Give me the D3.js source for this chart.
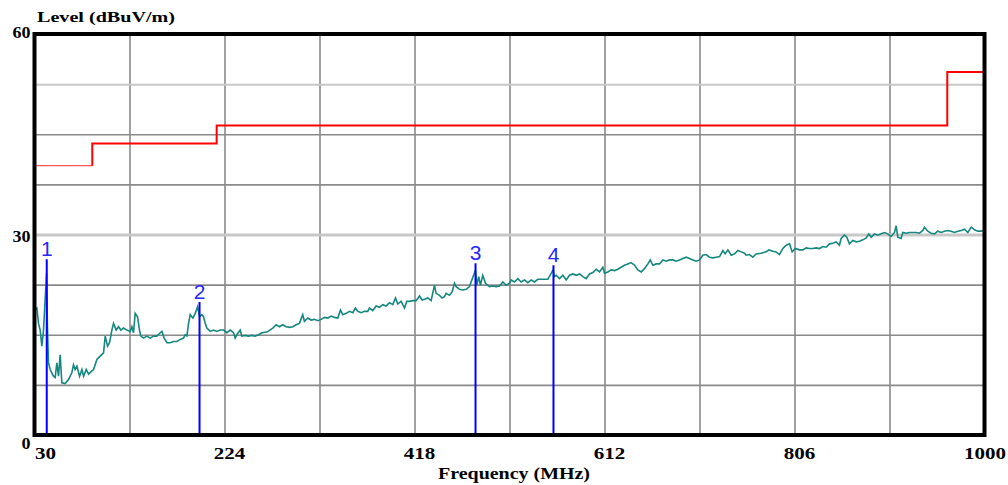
<!DOCTYPE html>
<html>
<head>
<meta charset="utf-8">
<script src="https://cdn.jsdelivr.net/npm/d3@7"></script>
<style>
  body { margin: 0; background: #fff; }
  svg { display: block; }
  .lbl { font-family: "Liberation Serif", "Times New Roman", serif; font-weight: bold; fill: #000; }
  .mk { font-family: "Liberation Sans", Arial, sans-serif; fill: #2626ff; }
</style>
</head>
<body>
<script>
// grid / tick values
const freqGrid = [30, 127, 224, 321, 418, 515, 612, 709, 806, 903, 1000];
const freqLabels = [30, 224, 418, 612, 806, 1000];
const levelGrid = [0, 7.5, 15, 22.5, 30, 37.5, 45, 52.5, 60];
const levelLabels = [0, 30, 60];

// limit line (step)
const limitFreq = [30, 89, 216, 962, 1000];
const limitLevel = [40.3, 43.6, 46.3, 54.3, 54.3];

// measured trace
const traceFreq = [
  30, 32.4, 34.1, 35.8, 37.5, 39.2, 42.3, 43.2, 44.3, 46.0, 47.7, 49.4, 51.1, 52.8, 54.5, 56.2, 57.9, 61.3, 64.7, 68.1,
  69.8, 71.5, 73.3, 76.0, 78.4, 80.1, 82.8, 85.2, 88.6, 90.3, 93.7, 97.1, 100.5, 102.2, 104.6, 106.6, 109.0, 110.7, 113.4, 115.8,
  118.2, 120.9, 124.3, 127.7, 129.4, 131.1, 132.8, 135.2, 137.2, 138.6, 141.3, 144.7, 148.1, 151.5, 154.9, 158.4, 160.1, 162.4, 165.2, 168.6,
  172.0, 175.4, 178.8, 182.2, 183.9, 185.6, 187.3, 189.0, 191.7, 194.1, 196.5, 198.5, 200.9, 202.6, 204.3, 206.0, 209.4, 212.8, 216.2, 219.6,
  223.0, 226.4, 229.8, 233.2, 234.9, 236.6, 240.0, 241.7, 245.1, 248.5, 251.9, 255.3, 258.7, 262.2, 267.3,
  273.3, 276.7, 280.1, 283.5, 286.9, 290.3, 293.7, 297.1, 300.5, 303.9, 305.6, 309.0, 312.4, 315.8, 319.3, 322.7, 326.1, 329.5, 332.9, 336.3,
  339.7, 342.4, 344.8, 348.2, 351.6, 355.0, 357.7, 360.1, 363.5, 366.9, 370.3, 372.0, 375.4, 378.8, 382.2, 385.6, 389.0, 392.4, 395.8, 398.6,
  400.9, 404.3, 407.8, 410.1, 412.9, 416.3, 419.7, 423.1, 425.8, 428.2, 431.6, 435.0, 438.4, 440.1, 443.5, 446.2, 448.6, 450.3, 453.7, 456.4,
  458.8, 460.5, 463.9, 467.3, 470.7, 474.1, 480.3, 481.5, 483.6, 485.3, 487.7, 490.5, 494.5, 497.9, 501.4, 504.8, 508.2, 511.6, 515.0,
  516.7, 520.1, 523.5, 526.9, 530.3, 533.7, 537.1, 540.5, 543.9, 547.3, 550.7, 554.1, 559.6, 560.8, 562.7, 566.1, 569.5, 572.9, 576.3, 579.7,
  583.1, 586.5, 589.9, 593.3, 596.7, 600.1, 603.5, 606.9, 610.3, 612.0, 615.4, 618.8, 622.2, 625.6, 629.0, 632.4, 635.8, 639.2, 642.7, 646.1,
  649.5, 652.9, 656.3, 658.7, 661.4, 664.8, 668.2, 671.6, 675.0, 678.4, 681.8, 685.2, 688.6, 692.0, 695.4, 698.8, 702.2, 705.6, 709.0, 712.4,
  715.8, 719.2, 722.6, 726.0, 729.5, 732.9, 735.2, 738.0, 741.4, 744.8, 748.2, 751.6, 755.0,
  756.6, 760.0, 763.4, 766.8, 771.9, 777.0, 779.8, 783.8, 787.2, 790.6, 794.1, 797.5, 800.9, 803.6, 807.0, 811.1, 814.5, 817.9, 821.3, 824.7,
  828.1, 831.5, 834.9, 838.3, 841.7, 845.1, 848.5, 851.9, 853.6, 857.0, 859.4, 862.1, 865.5, 869.0, 872.4, 875.8, 879.2, 881.9, 884.3, 887.7,
  891.1, 894.5, 897.9, 901.3, 904.7, 908.1, 909.8, 911.5, 914.9, 916.6, 920.0, 923.4, 926.8, 930.2, 933.6, 937.0, 938.7, 942.1, 945.5, 948.9,
  952.3, 955.7, 959.1, 962.5, 965.9, 969.3, 972.8, 976.2, 979.6, 983.0, 986.4, 989.8, 993.2, 996.6, 1000
];
const traceLevel = [
  18.7, 19.0, 16.7, 15.7, 13.3, 15.7, 24.2, 16.2, 10.8, 9.8, 9.3, 8.8, 8.6, 10.8, 8.8, 12.0, 7.8, 7.7, 8.3, 9.3,
  10.5, 9.8, 10.3, 8.8, 9.8, 8.8, 9.8, 9.1, 9.6, 9.8, 11.3, 11.8, 12.3, 14.8, 13.3, 13.8, 15.7, 16.7, 15.7, 16.2,
  15.7, 16.0, 15.7, 15.5, 16.2, 15.3, 18.2, 17.7, 15.7, 14.8, 14.5, 14.8, 14.5, 14.8, 14.8, 15.3, 15.5, 14.5, 13.8, 13.8,
  14.0, 14.0, 14.3, 14.5, 15.0, 14.8, 16.7, 18.0, 17.5, 18.2, 19.2, 17.7, 18.0, 17.7, 16.7, 16.0, 15.5, 15.7, 15.5, 15.7,
  15.7, 15.3, 15.7, 15.3, 14.5, 15.0, 15.7, 14.8, 14.9, 14.8, 14.9, 14.8, 15.0, 15.3, 15.4,
  16.0, 16.5, 16.2, 16.5, 16.2, 16.1, 16.2, 16.5, 16.7, 18.0, 17.0, 17.5, 17.2, 17.3, 17.1, 17.3, 17.6, 17.5, 17.8, 17.6,
  17.5, 18.7, 18.0, 18.2, 18.5, 18.3, 19.0, 18.5, 18.3, 18.5, 18.5, 19.0, 18.6, 19.3, 19.1, 19.5, 19.3, 19.8, 19.5, 20.5,
  19.6, 20.0, 19.0, 20.0, 20.0, 20.1, 20.1, 20.8, 20.2, 20.3, 20.5, 20.1, 22.4, 21.2, 20.9, 20.5, 20.7, 21.2, 20.9, 21.4,
  22.7, 22.2, 21.8, 21.7, 21.8, 22.2, 24.7, 22.4, 23.7, 22.4, 23.9, 22.7, 22.2, 22.3, 22.2, 22.3, 22.9, 22.4, 22.7,
  23.2, 22.9, 23.4, 22.9, 23.2, 22.8, 23.2, 22.9, 23.3, 23.3, 23.3, 23.3, 24.7, 23.7, 23.9, 23.4, 23.9, 23.2, 23.9, 24.1,
  23.9, 24.1, 23.7, 23.4, 24.1, 24.3, 24.8, 24.4, 25.1, 24.2, 24.4, 24.7, 24.6, 24.8, 25.1, 25.4, 25.6, 25.8, 25.4, 24.7,
  24.4, 24.9, 25.6, 26.2, 25.4, 25.6, 25.6, 26.2, 26.0, 26.2, 26.2, 26.0, 26.2, 26.4, 26.6, 26.4, 26.2, 26.0, 26.2, 26.9,
  27.0, 26.6, 26.5, 26.6, 26.7, 27.6, 27.1, 27.7, 26.9, 27.1, 27.6, 27.4, 27.2,
  26.9, 27.0, 26.6, 27.1, 27.2, 27.4, 27.7, 27.5, 27.4, 27.0, 27.9, 28.4, 28.6, 27.4, 27.9, 27.7, 27.7, 28.0, 27.9, 27.9,
  28.0, 27.9, 28.2, 28.1, 28.6, 28.7, 28.9, 28.4, 29.4, 29.9, 29.6, 28.6, 29.1, 28.9, 29.0, 29.2, 29.5, 30.1, 29.6, 30.1,
  29.9, 30.1, 30.3, 30.1, 29.7, 30.3, 31.3, 29.6, 29.4, 30.3, 30.2, 30.3, 30.3, 30.3, 30.2, 30.6, 31.1, 30.5, 30.2, 30.1,
  30.5, 30.3, 30.5, 30.6, 30.5, 30.3, 30.5, 30.6, 30.8, 30.3, 31.1, 30.7, 30.5, 30.5, 30.6
];

// markers
const markerNames = ["1", "2", "3", "4"];
const markerFreq = [42.5, 198.5, 480.3, 559.9];
const markerLevel = [26.3, 19.9, 25.7, 25.4];

const w = 1008;
const h = 485;
const m = { l: 34.5, r: 984.5, t: 34, b: 435 };

const svg = d3.select("body").append("svg").attr("width", w).attr("height", h);
svg.append("rect").attr("width", w).attr("height", h).attr("fill", "#fff");

const xScale = d3.scaleLinear().domain([30, 1000]).range([m.l, m.r]);
const yScale = d3.scaleLinear().domain([0, 60]).range([m.b, m.t]);

// vertical grid
const xGrid = svg
  .append("g")
  .attr("transform", `translate(0, ${m.b})`)
  .call(d3.axisBottom(xScale).tickValues(freqGrid.slice(1, -1)).tickSize(-(m.b - m.t)).tickFormat(""));
xGrid.select(".domain").remove();
xGrid.selectAll("line").attr("stroke", "#8a8a8a").attr("stroke-width", 1.6);

// horizontal grid (52.5 and 30 drawn lighter, like the original)
const yGrid = svg
  .append("g")
  .attr("transform", `translate(${m.l}, 0)`)
  .call(d3.axisLeft(yScale).tickValues(levelGrid.slice(1, -1)).tickSize(-(m.r - m.l)).tickFormat(""));
yGrid.select(".domain").remove();
yGrid
  .selectAll(".tick line")
  .attr("stroke", (d) => (d === 30 || d === 52.5 ? "#c8c8c8" : "#8a8a8a"))
  .attr("stroke-width", (d) => (d === 30 ? 3 : d === 52.5 ? 2 : 1.6));

// limit line
const lim = limitFreq.map((f, i) => ({ f, l: limitLevel[i] }));
const line = d3.line().x((d) => xScale(d.f)).y((d) => yScale(d.l));
svg
  .append("path")
  .attr("d", line([lim[0], { f: lim[1].f, l: lim[0].l }]))
  .attr("fill", "none")
  .attr("stroke", "#ff5555")
  .attr("stroke-width", 1.4);
svg
  .append("path")
  .attr("d", line.curve(d3.curveStepAfter)([{ f: lim[1].f, l: lim[0].l }, ...lim.slice(1)]))
  .attr("fill", "none")
  .attr("stroke", "#ff0000")
  .attr("stroke-width", 2);

// trace
const n = Math.min(traceFreq.length, traceLevel.length);
const trace = d3.range(n).map((i) => ({ f: traceFreq[i], l: traceLevel[i] }));
svg
  .append("path")
  .attr("d", d3.line().x((d) => xScale(d.f)).y((d) => yScale(d.l))(trace))
  .attr("fill", "none")
  .attr("stroke", "#14877f")
  .attr("stroke-width", 1.6)
  .attr("stroke-linejoin", "miter");

// markers
const mk = svg
  .selectAll(".marker")
  .data(markerNames.map((name, i) => ({ name, f: markerFreq[i], l: markerLevel[i] })))
  .enter()
  .append("g")
  .attr("class", "marker");
mk.append("line")
  .attr("x1", (d) => xScale(d.f))
  .attr("x2", (d) => xScale(d.f))
  .attr("y1", yScale(0))
  .attr("y2", (d) => yScale(d.l))
  .attr("stroke", "#0000ff")
  .attr("stroke-width", 2);
mk.append("text")
  .attr("class", "mk")
  .attr("x", (d) => xScale(d.f))
  .attr("y", (d) => yScale(d.l) - 3)
  .attr("text-anchor", "middle")
  .attr("font-size", 21)
  .text((d) => d.name);

// frame
svg
  .append("rect")
  .attr("x", m.l)
  .attr("y", m.t)
  .attr("width", m.r - m.l)
  .attr("height", m.b - m.t)
  .attr("fill", "none")
  .attr("stroke", "#000")
  .attr("stroke-width", 4);

// x tick labels
const xAG = svg
  .append("g")
  .attr("transform", `translate(0, ${m.b})`)
  .call(d3.axisBottom(xScale).tickValues(freqLabels).tickSize(0).tickFormat(d3.format("d")));
xAG.select(".domain").remove();
xAG
  .selectAll("text")
  .attr("class", "lbl")
  .attr("font-size", 17)
  .attr("y", 24)
  .attr("dy", 0)
  .attr("dx", (d, i) => (i === 0 ? 10.5 : i === freqLabels.length - 1 ? 0 : 4.5))
  .attr("textLength", (d) => String(d).length * 10.5)
  .attr("lengthAdjust", "spacingAndGlyphs");

// y tick labels
const yAG = svg
  .append("g")
  .attr("transform", `translate(${m.l}, 0)`)
  .call(d3.axisLeft(yScale).tickValues(levelLabels).tickSize(0).tickFormat(d3.format("d")));
yAG.select(".domain").remove();
yAG
  .selectAll("text")
  .attr("class", "lbl")
  .attr("font-size", 16)
  .attr("x", -4)
  .attr("dy", 0)
  .attr("y", (d) => (d === 0 ? 13 : d === 30 ? 7 : 3))
  .attr("textLength", (d) => String(d).length * 9)
  .attr("lengthAdjust", "spacingAndGlyphs");

// axis titles
svg
  .append("text")
  .attr("class", "lbl")
  .attr("x", 37)
  .attr("y", 22)
  .attr("font-size", 15)
  .attr("textLength", 138)
  .attr("lengthAdjust", "spacingAndGlyphs")
  .text("Level (dBuV/m)");

svg
  .append("text")
  .attr("class", "lbl")
  .attr("x", 438)
  .attr("y", 479)
  .attr("font-size", 17)
  .attr("textLength", 152)
  .attr("lengthAdjust", "spacingAndGlyphs")
  .text("Frequency (MHz)");
</script>
</body>
</html>
